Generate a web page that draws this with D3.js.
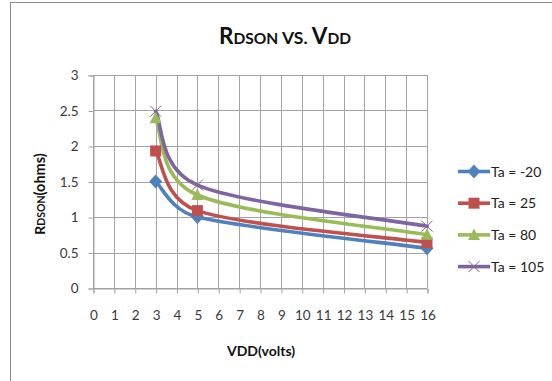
<!DOCTYPE html>
<html>
<head>
<meta charset="utf-8">
<script src="https://cdn.jsdelivr.net/npm/d3@7"></script>
<style>
  html, body { margin: 0; padding: 0; background: #fff; }
  svg { display: block; font-family: Lato, "Open Sans", sans-serif; }
</style>
</head>
<body>
<svg id="chart" width="552" height="381"></svg>
<script>
// Supply voltage (V) at which RDSON was measured
const vdd = [3, 5, 16];

// RDSON (ohms) for each ambient temperature
const taMinus20 = [1.50, 1.00, 0.56];
const ta25      = [1.93, 1.09, 0.64];
const ta80      = [2.39, 1.31, 0.75];
const ta105     = [2.49, 1.45, 0.87];

const seriesNames  = ["Ta = -20", "Ta = 25", "Ta = 80", "Ta = 105"];
const seriesColors = ["#4F81BD", "#C0504D", "#9BBB59", "#8064A2"];
const seriesMarks  = ["diamond", "square", "triangle", "cross"];

const xTicks = d3.range(0, 17, 1);
const yTicks = [0, 0.5, 1, 1.5, 2, 2.5, 3];

const series = [taMinus20, ta25, ta80, ta105].map((vals, i) => ({
  name: seriesNames[i],
  color: seriesColors[i],
  mark: seriesMarks[i],
  points: vals.map((v, j) => ({ x: vdd[j], y: v }))
}));

// Spreadsheet-style smoothed line: cubic Bezier segments whose control
// points follow the neighbouring chord, limited to half the segment length.
function SmoothCurve(context) { this._context = context; }
SmoothCurve.prototype = {
  areaStart() { this._line = 0; },
  areaEnd() { this._line = NaN; },
  lineStart() { this._pts = []; },
  point(px, py) { this._pts.push([+px, +py]); },
  lineEnd() {
    const p = this._pts, n = p.length, c = this._context;
    if (!n) return;
    const dist = (a, b) => Math.hypot(b[0] - a[0], b[1] - a[1]);
    c.moveTo(p[0][0], p[0][1]);
    for (let i = 0; i < n - 1; i++) {
      const p1 = p[i], p2 = p[i + 1];
      const p0 = i > 0 ? p[i - 1] : p1;
      const p3 = i < n - 2 ? p[i + 2] : p2;
      const d12 = dist(p1, p2), d02 = dist(p0, p2), d13 = dist(p1, p3);
      let f0 = 1 / 6, f3 = 1 / 6;
      if (d02 / 6 >= d12 / 2) f0 = d12 / d02 / 2;
      if (d13 / 6 >= d12 / 2) f3 = d12 / d13 / 2;
      c.bezierCurveTo(
        p1[0] + f0 * (p2[0] - p0[0]), p1[1] + f0 * (p2[1] - p0[1]),
        p2[0] - f3 * (p3[0] - p1[0]), p2[1] - f3 * (p3[1] - p1[1]),
        p2[0], p2[1]);
    }
  }
};
const curveSmooth = context => new SmoothCurve(context);

const svg = d3.select("#chart");

// chart frame
svg.append("rect")
  .attr("x", 10.5).attr("y", 2.5)
  .attr("width", 600).attr("height", 500)
  .attr("fill", "#fff").attr("stroke", "#8c8c8c");

const plot = { left: 93, right: 427, top: 75, bottom: 288 };
const x = d3.scaleLinear().domain([0, 16]).range([plot.left, plot.right]);
const y = d3.scaleLinear().domain([0, 3]).range([plot.bottom, plot.top]);

const gridColor = "#a3a3a3";

// gridlines
const grid = svg.append("g");
grid.selectAll("line.v").data(xTicks).join("line")
  .attr("x1", d => Math.round(x(d)) + 0.5).attr("x2", d => Math.round(x(d)) + 0.5)
  .attr("y1", plot.top).attr("y2", plot.bottom)
  .attr("stroke", gridColor);
grid.selectAll("line.h").data(yTicks).join("line")
  .attr("x1", plot.left).attr("x2", plot.right)
  .attr("y1", d => Math.round(y(d)) + 0.5).attr("y2", d => Math.round(y(d)) + 0.5)
  .attr("stroke", gridColor);

// axes
const xAxis = d3.axisBottom(x).tickValues(xTicks).tickSize(5).tickPadding(17)
  .tickFormat(d3.format("d"));
const yAxis = d3.axisLeft(y).tickValues(yTicks).tickSize(5).tickPadding(10)
  .tickFormat(d => d);

const gx = svg.append("g").attr("transform", `translate(0.5,${Math.round(y(0)) + 0.5})`).call(xAxis);
const gy = svg.append("g").attr("transform", `translate(${plot.left + 0.5},0.5)`).call(yAxis);
[gx, gy].forEach(g => {
  g.select(".domain").attr("stroke", gridColor);
  g.selectAll(".tick line").attr("stroke", gridColor);
  g.selectAll(".tick text")
    .attr("fill", "#3a3a3a")
    .style("font-size", "13.5px")
    .style("font-family", "Lato, sans-serif");
});
gx.selectAll(".tick text").attr("dy", "0.71em");

// series lines (smoothed)
const line = d3.line()
  .x(d => x(d.x)).y(d => y(d.y))
  .curve(curveSmooth);

const lines = svg.append("g");
series.forEach(s => {
  lines.append("path")
    .attr("d", line(s.points))
    .attr("fill", "none")
    .attr("stroke", s.color)
    .attr("stroke-width", 3.6)
    .attr("stroke-linejoin", "round")
    .attr("stroke-linecap", "round");
});

// marker drawing
function drawMarker(g, kind, color, cx, cy) {
  if (kind === "diamond") {
    g.append("path")
      .attr("d", `M${cx},${cy - 7}L${cx + 6.5},${cy}L${cx},${cy + 7}L${cx - 6.5},${cy}Z`)
      .attr("fill", color);
  } else if (kind === "square") {
    g.append("rect")
      .attr("x", cx - 5.5).attr("y", cy - 5.5)
      .attr("width", 11).attr("height", 11)
      .attr("fill", color);
  } else if (kind === "triangle") {
    g.append("path")
      .attr("d", `M${cx},${cy - 6.5}L${cx + 6},${cy + 5}L${cx - 6},${cy + 5}Z`)
      .attr("fill", color);
  } else {
    g.append("path")
      .attr("d", `M${cx - 5.5},${cy - 5.5}L${cx + 5.5},${cy + 5.5}M${cx - 5.5},${cy + 5.5}L${cx + 5.5},${cy - 5.5}`)
      .attr("stroke", color).attr("stroke-width", 1).attr("fill", "none");
  }
}

const marks = svg.append("g");
series.forEach(s => {
  s.points.forEach(p => drawMarker(marks, s.mark, s.color, x(p.x), y(p.y)));
});

// legend
const legend = svg.append("g");
const legendTop = 171.5, legendStep = 31.7;
series.forEach((s, i) => {
  const ly = legendTop + i * legendStep;
  legend.append("line")
    .attr("x1", 458).attr("x2", 490).attr("y1", ly).attr("y2", ly)
    .attr("stroke", s.color).attr("stroke-width", 3.6);
  drawMarker(legend, s.mark, s.color, 474, ly);
  legend.append("text")
    .attr("x", 491).attr("y", ly).attr("dy", "0.36em")
    .attr("fill", "#222")
    .style("font-size", "14px")
    .text(s.name);
});

// chart title with small-caps subscripts
const title = svg.append("text")
  .attr("x", 285).attr("y", 44)
  .attr("text-anchor", "middle")
  .attr("font-weight", "bold")
  .attr("fill", "#111");
title.append("tspan").style("font-size", "22.5px").text("R");
title.append("tspan").style("font-size", "15.5px").text("DSON ");
title.append("tspan").style("font-size", "17.5px").text("VS. ");
title.append("tspan").style("font-size", "22.5px").text("V");
title.append("tspan").style("font-size", "15.5px").text("DD");

// y-axis title
const yTitle = svg.append("text")
  .attr("transform", "translate(45,194) rotate(-90)")
  .attr("text-anchor", "middle")
  .attr("font-weight", "bold")
  .attr("fill", "#111");
yTitle.append("tspan").style("font-size", "14px").text("R");
yTitle.append("tspan").style("font-size", "10.5px").text("DSON");
yTitle.append("tspan").style("font-size", "14.5px").text("(ohms)");

// x-axis title
svg.append("text")
  .attr("x", 261).attr("y", 356)
  .attr("text-anchor", "middle")
  .attr("font-weight", "bold")
  .attr("fill", "#111")
  .style("font-size", "14px")
  .text("VDD(volts)");
</script>
</body>
</html>
